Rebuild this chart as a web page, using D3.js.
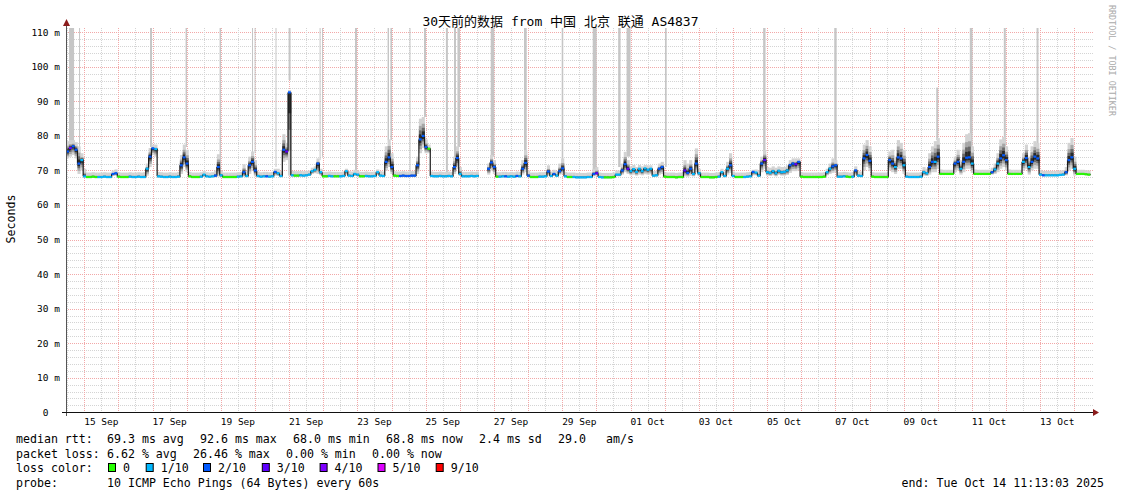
<!DOCTYPE html>
<html><head><meta charset="utf-8">
<script src="https://cdn.jsdelivr.net/npm/d3@7"></script>
<style>
body{margin:0;background:#fff}
svg text{font-family:"DejaVu Sans Mono","Noto Sans CJK SC",monospace}
</style>
</head><body>
<svg id="chart" width="1121" height="494"></svg>
<script>
// ---------------- DATA ----------------
const START = "2025-09-14T11:13:03Z";
const END = "2025-10-14T11:13:03Z";
const STEP_HOURS = 2; // one value per 2 hours, 12 per row (one row = 24h from START)

const median = [
75.5,76.5,77.0,76.0,72.0,73.0,68.3,68.1,68.1,68.2,68.1,68.1,
68.1,68.2,68.1,68.1,69.0,69.2,68.2,68.1,68.1,68.1,68.2,68.1,
68.1,68.2,68.1,68.1,70.5,74.0,76.4,76.2,68.3,68.2,68.1,68.1,
68.2,68.1,68.1,68.2,71.5,73.8,72.0,68.3,68.1,68.1,68.1,68.2,
68.8,68.3,68.2,68.3,68.5,71.0,68.6,68.1,68.1,68.1,68.1,68.1,
68.2,68.3,69.5,68.4,71.5,72.5,70.0,68.4,68.2,68.3,68.3,68.2,
68.3,69.6,69.2,68.4,76.0,75.5,92.6,68.6,68.5,68.5,68.6,68.5,
68.6,68.8,69.8,70.2,72.0,69.5,68.3,68.3,68.4,68.3,68.3,68.3,
68.3,68.4,69.8,68.5,68.4,69.0,68.8,68.3,68.3,68.4,68.3,68.3,
68.4,69.5,68.5,68.4,72.5,73.8,71.0,68.5,68.4,68.4,68.5,68.4,
68.4,68.5,68.5,71.5,79.0,80.0,76.8,76.3,68.4,68.3,68.3,68.4,
68.3,68.3,68.4,68.3,71.0,73.6,69.0,68.3,68.3,68.3,68.4,68.3,
68.4,null,null,null,70.5,72.3,71.0,68.2,68.2,68.3,68.3,68.2,
68.3,68.2,68.4,68.3,70.5,72.2,68.5,68.1,68.1,68.1,68.2,68.2,
68.3,69.7,68.4,69.0,68.5,69.8,70.6,68.3,68.1,68.1,68.1,68.0,
68.0,68.0,68.0,68.1,68.1,69.0,69.2,68.1,68.0,68.0,68.0,68.0,
68.1,68.8,68.8,70.0,71.8,70.5,69.8,70.4,69.6,70.5,69.8,70.6,
70.2,70.5,68.5,68.6,70.5,71.0,68.2,68.1,68.1,68.1,68.0,68.1,
68.1,70.0,69.3,70.5,69.0,72.0,69.2,68.1,68.1,68.1,68.0,68.0,
68.1,68.2,69.5,68.4,70.5,71.5,68.4,68.1,68.1,68.1,68.1,68.2,
68.3,69.6,69.4,68.5,72.0,73.0,69.5,69.3,69.8,69.2,69.9,69.5,
69.6,70.0,71.5,72.0,71.8,72.5,68.2,68.1,68.1,68.1,68.1,68.1,
68.1,68.1,68.2,69.5,70.5,71.2,71.5,68.2,68.2,68.3,68.2,68.1,
68.2,70.0,68.5,68.4,73.5,74.5,72.8,68.2,68.1,68.1,68.1,68.1,
68.1,73.0,72.0,71.0,73.8,73.5,71.5,68.2,68.1,68.1,68.1,68.1,
68.2,69.5,69.2,71.0,72.5,72.5,74.0,69.0,69.0,69.0,69.0,69.0,
72.0,72.5,70.5,72.5,73.7,73.8,72.0,69.0,69.0,69.0,69.0,69.0,
69.0,69.5,70.3,72.0,73.5,74.4,73.0,69.0,69.0,69.0,69.0,69.0,
72.5,73.6,71.0,72.5,74.0,73.5,68.8,68.6,68.6,68.6,68.6,68.6,
68.6,68.7,68.8,69.5,73.0,73.8,70.5,69.0,69.0,69.0,68.9,68.8
];

const smokeHi = [
78.5,78.8,78.8,78.2,77.0,75.0,70.5,69.4,69.4,69.5,69.4,69.4,
69.4,69.5,69.4,69.4,70.0,70.3,69.5,69.4,69.4,69.4,69.5,69.4,
69.4,69.5,69.4,69.5,72.0,76.5,77.5,77.5,69.6,69.5,69.4,69.4,
69.5,69.4,69.4,69.6,74.5,77.5,76.0,69.6,69.4,69.4,69.4,69.5,
69.8,69.5,69.4,69.5,70.0,74.7,70.0,69.4,69.4,69.4,69.4,69.4,
69.5,69.6,71.8,69.8,74.0,75.5,73.0,69.7,69.5,69.6,69.6,69.5,
69.6,70.5,70.5,69.8,80.5,78.0,93.3,69.9,69.8,69.8,69.9,69.8,
69.9,70.0,70.8,71.2,73.5,70.5,69.6,69.6,69.7,69.6,69.6,69.6,
69.6,69.7,70.5,69.8,69.7,70.2,70.0,69.6,69.6,69.7,69.6,69.6,
69.7,70.3,69.8,69.7,77.0,79.0,75.0,69.8,69.7,69.7,69.8,69.7,
69.7,69.8,69.8,74.0,85.0,85.5,79.0,77.5,69.7,69.6,69.6,69.7,
69.6,69.6,69.7,69.6,74.0,77.0,71.0,69.6,69.6,69.6,69.7,69.6,
69.7,null,null,null,72.0,74.5,73.0,69.5,69.5,69.6,69.6,69.5,
69.6,69.5,69.7,69.6,73.0,75.9,70.0,69.4,69.4,69.4,69.5,69.5,
69.6,71.5,69.7,70.2,69.8,72.0,73.5,69.6,69.4,69.4,69.4,69.3,
69.3,69.3,69.3,69.4,69.4,70.5,71.0,69.4,69.3,69.3,69.3,69.3,
69.4,70.0,70.0,72.0,75.4,73.0,71.2,71.6,71.0,71.6,71.2,71.6,
71.5,71.5,69.8,69.9,72.0,72.5,69.5,69.4,69.4,69.4,69.3,69.4,
69.4,73.0,72.0,73.0,70.5,76.4,70.5,69.4,69.4,69.4,69.3,69.3,
69.4,69.5,70.5,69.7,72.5,75.0,69.7,69.4,69.4,69.4,69.4,69.5,
69.6,70.2,70.3,70.0,74.0,75.9,71.0,70.8,71.2,70.8,71.2,71.0,
71.0,71.5,73.0,73.5,73.5,73.5,69.5,69.4,69.4,69.4,69.4,69.4,
69.4,69.4,69.5,70.5,72.0,73.5,73.0,69.5,69.5,69.6,69.5,69.4,
69.5,71.2,69.8,69.7,77.5,78.8,77.0,69.5,69.4,69.4,69.4,69.4,
69.4,75.5,76.0,74.0,78.8,78.0,76.0,69.5,69.4,69.4,69.4,69.4,
69.5,71.0,70.5,75.0,77.0,78.5,79.4,70.3,70.2,70.2,70.2,70.2,
74.0,76.0,73.0,78.0,80.5,80.8,77.0,70.3,70.2,70.2,70.2,70.2,
70.2,70.8,72.0,75.0,79.0,79.7,77.0,70.3,70.2,70.2,70.2,70.2,
75.0,77.5,74.0,77.0,78.5,78.0,70.2,69.9,69.9,69.9,69.9,69.9,
69.9,70.0,70.1,71.0,78.0,79.4,74.0,70.2,70.2,70.2,70.1,70.0
];

const smokeLo = [
73.5,74.0,74.5,73.5,69.0,70.0,67.9,67.8,67.8,67.9,67.8,67.8,
67.8,67.9,67.8,67.8,68.4,68.5,67.9,67.8,67.8,67.8,67.9,67.8,
67.8,67.9,67.8,67.8,68.5,71.0,74.5,74.0,67.9,67.9,67.8,67.8,
67.9,67.8,67.8,67.9,69.0,71.0,69.5,67.9,67.8,67.8,67.8,67.9,
68.2,68.0,67.9,68.0,68.0,68.3,68.0,67.8,67.8,67.8,67.8,67.8,
67.9,68.0,68.2,68.0,69.0,70.0,68.3,68.0,67.9,68.0,68.0,67.9,
68.0,68.5,68.4,68.0,72.5,73.0,68.5,68.2,68.2,68.2,68.2,68.2,
68.3,68.4,69.0,69.2,69.0,68.6,68.0,68.0,68.1,68.0,68.0,68.0,
68.0,68.1,68.8,68.2,68.1,68.4,68.3,68.0,68.0,68.1,68.0,68.0,
68.1,68.7,68.2,68.1,70.0,71.0,69.0,68.1,68.1,68.1,68.1,68.1,
68.1,68.1,68.1,69.0,75.0,76.5,75.0,75.0,68.1,68.0,68.0,68.1,
68.0,68.0,68.1,68.0,69.0,70.5,68.4,68.0,68.0,68.0,68.1,68.0,
68.1,null,null,null,68.8,70.0,69.0,67.9,67.9,68.0,68.0,67.9,
68.0,67.9,68.1,68.0,68.8,69.5,68.0,67.8,67.8,67.8,67.9,67.9,
68.0,68.5,68.1,68.4,68.1,68.8,69.0,68.0,67.8,67.8,67.8,67.7,
67.7,67.7,67.7,67.8,67.8,68.3,68.5,67.8,67.7,67.7,67.7,67.7,
67.8,68.3,68.3,68.8,69.5,69.0,68.6,68.8,68.5,68.8,68.6,68.9,
68.8,68.9,68.1,68.2,68.8,69.0,67.9,67.8,67.8,67.8,67.7,67.8,
67.8,68.3,68.2,68.5,68.3,69.5,68.4,67.8,67.8,67.8,67.7,67.7,
67.8,67.9,68.5,68.0,68.8,69.3,68.0,67.8,67.8,67.8,67.8,67.9,
68.0,68.6,68.6,68.1,69.5,70.5,68.5,68.4,68.6,68.3,68.7,68.5,
68.5,68.7,69.3,69.8,69.8,70.0,67.9,67.8,67.8,67.8,67.8,67.8,
67.8,67.8,67.9,68.6,69.0,69.3,69.5,67.9,67.9,68.0,67.9,67.8,
67.9,68.6,68.1,68.0,70.0,71.0,69.8,67.9,67.8,67.8,67.8,67.8,
67.8,70.0,69.5,69.0,70.5,70.5,69.0,67.9,67.8,67.8,67.8,67.8,
67.9,68.5,68.4,68.8,69.5,69.5,70.5,68.7,68.7,68.7,68.7,68.7,
69.5,70.0,68.8,69.5,70.5,70.5,69.3,68.7,68.7,68.7,68.7,68.7,
68.7,68.8,69.0,69.5,70.5,71.0,70.0,68.7,68.7,68.7,68.7,68.7,
70.0,70.5,68.8,70.0,70.5,70.5,68.4,68.3,68.3,68.3,68.3,68.3,
68.3,68.4,68.5,68.6,70.0,70.5,68.5,68.7,68.7,68.7,68.6,68.5
];

// index into lossColors (0 = 0 loss, 1 = 1/10, 2 = 2/10 ...)
const loss = [
2,3,2,2,2,1,1,0,0,0,0,1,
1,1,1,1,2,2,0,0,0,0,1,1,
1,1,1,1,1,2,2,1,1,1,1,1,
1,1,1,1,2,2,2,0,0,0,0,1,
1,1,1,1,2,2,1,0,0,0,0,0,
1,1,2,1,2,2,2,1,1,1,2,1,
1,2,1,1,2,3,2,1,0,0,1,1,
1,1,1,1,2,1,0,0,1,1,0,0,
1,1,1,1,1,1,1,0,0,1,1,1,
1,1,1,1,2,2,2,0,0,2,2,2,
2,2,2,2,2,2,2,0,1,1,1,1,
1,1,1,1,2,2,1,1,1,1,1,1,
1,0,0,0,2,2,2,0,1,1,2,1,
1,1,2,1,2,2,2,0,0,0,1,1,
1,2,1,2,1,2,2,1,0,0,1,1,
1,1,1,1,1,2,3,1,1,0,0,0,
0,1,1,2,2,3,1,1,1,1,1,1,
1,1,1,1,2,2,0,0,0,0,0,0,
0,3,2,2,1,2,1,0,0,0,0,0,
0,1,1,1,1,2,1,0,0,0,1,1,
1,2,1,1,2,3,1,1,1,1,1,1,
1,1,2,2,3,2,0,0,0,0,0,0,
0,0,0,1,1,2,2,1,1,1,0,0,
1,2,1,1,2,2,2,0,0,0,0,0,
0,2,2,1,2,2,1,1,1,1,1,1,
1,1,1,2,2,1,2,0,0,0,0,0,
2,2,1,2,2,2,1,0,0,0,0,0,
0,2,1,1,2,2,2,0,0,0,0,0,
1,2,1,2,2,2,1,2,1,1,1,1,
1,1,1,2,2,2,1,0,0,0,0,0
];

// periods with outlier pings far above the chart: start hour, end hour, lowest value, highest value
const spikeStart = [2.1,9.1,59.0,84.0,107.9,130.7,132.5,147.2,156.4,178.2,179.9,203.1,226.0,228.0,241.4,251.6,267.0,272.7,275.1,298.5,321.9,348.4,370.2,388.1,394.0,421.0,490.0,540.0,611.7,635.3,659.2,682.2];
const spikeEnd   = [5.6,9.8,60.4,85.0,108.9,131.4,133.2,147.9,157.8,178.9,180.6,204.5,227.0,229.1,242.1,253.0,268.4,274.1,276.9,301.0,323.8,349.5,373.0,389.8,396.8,422.2,491.7,541.7,613.1,637.2,660.6,683.6];
const spikeLow   = [78,73.8,76.8,76.8,71,75,75,71,96.2,73,74,69.1,78.8,78.8,69.1,85.5,69.1,70,76.8,74,74,72,69.2,71,74,71,74,71,78.8,73,74,74];
const spikeHigh  = [999,999,999,999,999,999,999,999,999,999,999,999,999,999,999,999,999,999,999,999,999,999,999,999,999,999,999,999,94,999,999,999];

const lossColors = ["#26ff00","#00b8ff","#0059ff","#5e00ff","#7e00ff","#dd00ff","#ff0000"];
const lossLabels = ["0","1/10","2/10","3/10","4/10","5/10","9/10"];

const yTickValues = [0,10,20,30,40,50,60,70,80,90,100,110];
const yTickLabels = ["0","10 m","20 m","30 m","40 m","50 m","60 m","70 m","80 m","90 m","100 m","110 m"];
const xTickDates = ["2025-09-15T12:00:00Z","2025-09-17T12:00:00Z","2025-09-19T12:00:00Z","2025-09-21T12:00:00Z","2025-09-23T12:00:00Z","2025-09-25T12:00:00Z","2025-09-27T12:00:00Z","2025-09-29T12:00:00Z","2025-10-01T12:00:00Z","2025-10-03T12:00:00Z","2025-10-05T12:00:00Z","2025-10-07T12:00:00Z","2025-10-09T12:00:00Z","2025-10-11T12:00:00Z","2025-10-13T12:00:00Z"];
const xTickLabels = ["15 Sep","17 Sep","19 Sep","21 Sep","23 Sep","25 Sep","27 Sep","29 Sep","01 Oct","03 Oct","05 Oct","07 Oct","09 Oct","11 Oct","13 Oct"];

const titleText = "30天前的数据 from 中国 北京 联通 AS4837";
const rttStats = ["69.3 ms avg","92.6 ms max","68.0 ms min","68.8 ms now","2.4 ms sd","29.0","am/s"];
const lossStats = ["6.62 % avg","26.46 % max","0.00 % min","0.00 % now"];
const probeText = "10 ICMP Echo Pings (64 Bytes) every 60s";
const endText = "end: Tue Oct 14 11:13:03 2025";

// ---------------- DRAWING ----------------
const svg = d3.select("#chart");
const t0 = new Date(START), t1 = new Date(END);
const x = d3.scaleUtc().domain([t0, t1]).range([66.1, 1090.3]);
const y = d3.scaleLinear().domain([0, 110]).range([412.3, 32.3]);
const plotTop = 28, plotLeft = 66, plotRight = 1093, plotBottom = 412.3;
const hourT = h => new Date(t0.getTime() + h * 3600000);
const snap = v => Math.round(v) + 0.5;

svg.append("rect").attr("width",1121).attr("height",494).attr("fill","#fff");

const grid = svg.append("g");
d3.range(2, 111, 2).forEach(v => {
  const major = v % 10 === 0;
  grid.append("line")
    .attr("x1", plotLeft).attr("x2", plotRight)
    .attr("y1", snap(y(v))).attr("y2", snap(y(v)))
    .attr("stroke", major ? "#f2a8a8" : "#d4d4d4")
    .attr("stroke-width", 1).attr("stroke-dasharray", "1,1");
});
d3.utcHour.every(12).range(t0, t1).forEach(t => {
  const major = t.getUTCHours() === 0;
  grid.append("line")
    .attr("x1", snap(x(t))).attr("x2", snap(x(t)))
    .attr("y1", plotTop).attr("y2", plotBottom)
    .attr("stroke", major ? "#f2a8a8" : "#d4d4d4")
    .attr("stroke-width", 1).attr("stroke-dasharray", "1,1");
});

// outlier spikes
const gSp = svg.append("g");
spikeStart.forEach((s, i) => {
  const top = Math.max(plotTop, y(spikeHigh[i]));
  const x0 = x(hourT(s)), x1 = x(hourT(spikeEnd[i]));
  gSp.append("rect")
    .attr("x", x0).attr("width", Math.max(1, x1 - x0))
    .attr("y", top).attr("height", y(spikeLow[i]) - top)
    .attr("fill", "#c6c6c6");
});

// smoke
const gSm = svg.append("g");
const bands = [
  {fl: 1.0, fh: 1.0, c: "#d3d3d3", hard: false},
  {fl: 0.7, fh: 0.75, c: "#a6a6a6", hard: true},
  {fl: 0.45, fh: 0.5, c: "#6a6a6a", hard: true},
  {fl: 0.25, fh: 0.28, c: "#2a2a2a", hard: true}
];
median.forEach((m, i) => {
  if (m === null) return;
  const xa = x(hourT(i * STEP_HOURS)), xb = x(hourT((i + 1) * STEP_HOURS));
  const lo = smokeLo[i], hi = smokeHi[i];
  bands.forEach(b => {
    const up = b.hard ? Math.max(0, hi - m - 0.8) : (hi - m);
    const top = m + up * b.fh, bot = m - (m - lo) * b.fl;
    const yt = y(top), yb = y(bot);
    if (yb - yt < 0.3) return;
    gSm.append("rect").attr("x", xa).attr("width", xb - xa + 0.3)
      .attr("y", yt).attr("height", yb - yt).attr("fill", b.c);
  });
});

// median: dark step connectors + loss coloured segments
const gMed = svg.append("g");
median.forEach((m, i) => {
  const n = median[i + 1];
  if (m === null || n === undefined || n === null) return;
  const xb = x(hourT((i + 1) * STEP_HOURS));
  gMed.append("line").attr("x1", xb).attr("x2", xb)
    .attr("y1", y(m)).attr("y2", y(n))
    .attr("stroke", "#1a1a1a").attr("stroke-width", 1.2);
});
median.forEach((m, i) => {
  if (m === null) return;
  const xa = x(hourT(i * STEP_HOURS)), xb = x(hourT((i + 1) * STEP_HOURS));
  gMed.append("line").attr("x1", xa).attr("x2", xb)
    .attr("y1", y(m)).attr("y2", y(m))
    .attr("stroke", lossColors[loss[i]]).attr("stroke-width", 2.2);
});

// axes
svg.append("line").attr("x1", 66.5).attr("x2", 66.5).attr("y1", 24).attr("y2", 416)
  .attr("stroke", "#555").attr("stroke-width", 1);
svg.append("line").attr("x1", 62).attr("x2", 1095).attr("y1", 412.5).attr("y2", 412.5)
  .attr("stroke", "#111").attr("stroke-width", 1);
svg.append("path").attr("d", "M63,26 L70,26 L66.5,19 Z").attr("fill", "#8b1c1c");
svg.append("path").attr("d", "M1093,409 L1093,416 L1099,412.5 Z").attr("fill", "#8b1c1c");

yTickValues.forEach((v, i) => {
  svg.append("text")
    .attr("x", v === 0 ? 48.6 : 60).attr("y", y(v) + 3.4)
    .attr("text-anchor", "end").attr("font-size", "9.5px").attr("fill", "#000")
    .text(yTickLabels[i]);
});
xTickDates.forEach((d, i) => {
  svg.append("text")
    .attr("x", x(new Date(d))).attr("y", 425)
    .attr("text-anchor", "middle").attr("font-size", "9.5px").attr("fill", "#000")
    .text(xTickLabels[i]);
});

svg.append("text").attr("x", 560.5).attr("y", 26)
  .attr("text-anchor", "middle").attr("font-size", "13px").attr("fill", "#000")
  .text(titleText);

svg.append("text").attr("transform", "translate(15,219) rotate(-90)")
  .attr("text-anchor", "middle").attr("font-size", "11.6px").attr("fill", "#000")
  .text("Seconds");

svg.append("text").attr("transform", "translate(1108.5,5) rotate(90)")
  .attr("text-anchor", "start").attr("font-size", "8.4px").attr("fill", "#aaaaaa")
  .text("RRDTOOL / TOBI OETIKER");

// legend
const L = svg.append("g").attr("font-size", "11.6px").attr("fill", "#000");
const row = [443, 457.5, 472, 486.5];
const txt = (xx, yy, s) => L.append("text").attr("x", xx).attr("y", yy).text(s);
txt(16, row[0], "median rtt:");
[107, 200, 293, 386, 479, 558, 606].forEach((xx, i) => txt(xx, row[0], rttStats[i]));
txt(16, row[1], "packet loss:");
[107, 193, 286, 372].forEach((xx, i) => txt(xx, row[1], lossStats[i]));
txt(16, row[2], "loss color:");
[108, 145.7, 203, 261.8, 319.6, 377.5, 435.7].forEach((xx, i) => {
  L.append("rect").attr("x", xx + 0.5).attr("y", row[2] - 8.5).attr("width", 7).attr("height", 8)
    .attr("fill", lossColors[i]).attr("stroke", "#000").attr("stroke-width", 1);
  txt(xx + 15, row[2], lossLabels[i]);
});
txt(16, row[3], "probe:");
txt(107, row[3], probeText);
L.append("text").attr("x", 1104).attr("y", row[3]).attr("text-anchor", "end").text(endText);
</script>
</body></html>
